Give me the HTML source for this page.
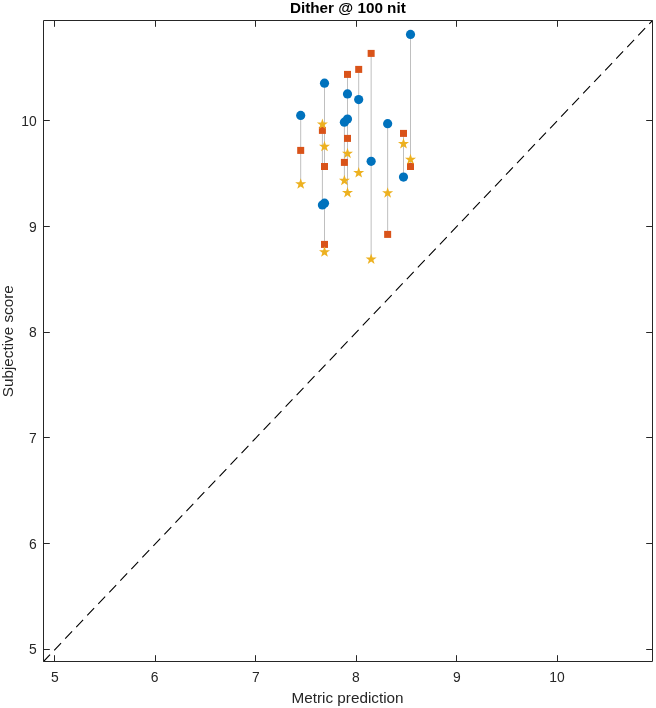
<!DOCTYPE html>
<html><head><meta charset="utf-8"><title>Dither @ 100 nit</title>
<style>
html,body{margin:0;padding:0;background:#fff;}
body{width:656px;height:708px;overflow:hidden;}
svg{display:block;}
text{font-family:"Liberation Sans",Arial,Helvetica,sans-serif;}
.tk{font-size:13.89px;fill:#262626;}
.lb{font-size:15.28px;fill:#262626;}
.tt{font-size:15.28px;font-weight:bold;fill:#000;}
</style></head><body>
<svg width="656" height="708" viewBox="0 0 656 708">
<rect x="0" y="0" width="656" height="708" fill="#ffffff"/>

<g stroke="#bfbfbf" stroke-width="1" fill="none">
<line x1="300.7" y1="115.40" x2="300.7" y2="184.10"/>
<line x1="322.4" y1="124.40" x2="322.4" y2="205.00"/>
<line x1="324.5" y1="83.20" x2="324.5" y2="166.50"/>
<line x1="324.5" y1="203.20" x2="324.5" y2="252.15"/>
<line x1="344.4" y1="122.20" x2="344.4" y2="180.60"/>
<line x1="347.5" y1="74.40" x2="347.5" y2="153.55"/>
<line x1="347.5" y1="119.10" x2="347.5" y2="192.75"/>
<line x1="358.7" y1="69.40" x2="358.7" y2="172.90"/>
<line x1="371.15" y1="53.40" x2="371.15" y2="259.25"/>
<line x1="387.65" y1="123.70" x2="387.65" y2="234.40"/>
<line x1="403.5" y1="133.40" x2="403.5" y2="177.10"/>
<line x1="410.5" y1="34.40" x2="410.5" y2="166.50"/>
</g>
<line x1="43.5" y1="661.5" x2="652.5" y2="20.5" stroke="#000" stroke-width="1.1" stroke-dasharray="10 6" stroke-dashoffset="0.5"/>
<g fill="#0072bd">
<circle cx="300.7" cy="115.4" r="4.6"/>
<circle cx="322.4" cy="205.0" r="4.6"/>
<circle cx="324.5" cy="83.2" r="4.6"/>
<circle cx="324.5" cy="203.2" r="4.6"/>
<circle cx="344.4" cy="122.2" r="4.6"/>
<circle cx="347.5" cy="93.9" r="4.6"/>
<circle cx="347.5" cy="119.1" r="4.6"/>
<circle cx="358.7" cy="99.6" r="4.6"/>
<circle cx="371.15" cy="161.3" r="4.6"/>
<circle cx="387.65" cy="123.7" r="4.6"/>
<circle cx="403.5" cy="177.1" r="4.6"/>
<circle cx="410.5" cy="34.4" r="4.6"/>
</g>
<g fill="#d95319">
<rect x="297.20" y="146.90" width="7" height="7"/>
<rect x="318.90" y="126.90" width="7" height="7"/>
<rect x="321.00" y="163.00" width="7" height="7"/>
<rect x="321.00" y="240.90" width="7" height="7"/>
<rect x="340.90" y="158.90" width="7" height="7"/>
<rect x="344.00" y="70.90" width="7" height="7"/>
<rect x="344.00" y="134.90" width="7" height="7"/>
<rect x="355.20" y="65.90" width="7" height="7"/>
<rect x="367.65" y="49.90" width="7" height="7"/>
<rect x="384.15" y="230.90" width="7" height="7"/>
<rect x="400.00" y="129.90" width="7" height="7"/>
<rect x="407.00" y="163.00" width="7" height="7"/>
</g>
<g fill="#edb120">
<polygon points="300.70,178.30 302.05,182.24 306.22,182.31 302.89,184.81 304.11,188.79 300.70,186.40 297.29,188.79 298.51,184.81 295.18,182.31 299.35,182.24"/>
<polygon points="322.40,118.60 323.75,122.54 327.92,122.61 324.59,125.11 325.81,129.09 322.40,126.70 318.99,129.09 320.21,125.11 316.88,122.61 321.05,122.54"/>
<polygon points="324.50,140.85 325.85,144.79 330.02,144.86 326.69,147.36 327.91,151.34 324.50,148.95 321.09,151.34 322.31,147.36 318.98,144.86 323.15,144.79"/>
<polygon points="324.50,246.35 325.85,250.29 330.02,250.36 326.69,252.86 327.91,256.84 324.50,254.45 321.09,256.84 322.31,252.86 318.98,250.36 323.15,250.29"/>
<polygon points="344.40,174.80 345.75,178.74 349.92,178.81 346.59,181.31 347.81,185.29 344.40,182.90 340.99,185.29 342.21,181.31 338.88,178.81 343.05,178.74"/>
<polygon points="347.50,147.75 348.85,151.69 353.02,151.76 349.69,154.26 350.91,158.24 347.50,155.85 344.09,158.24 345.31,154.26 341.98,151.76 346.15,151.69"/>
<polygon points="347.50,186.95 348.85,190.89 353.02,190.96 349.69,193.46 350.91,197.44 347.50,195.05 344.09,197.44 345.31,193.46 341.98,190.96 346.15,190.89"/>
<polygon points="358.70,167.10 360.05,171.04 364.22,171.11 360.89,173.61 362.11,177.59 358.70,175.20 355.29,177.59 356.51,173.61 353.18,171.11 357.35,171.04"/>
<polygon points="371.15,253.45 372.50,257.39 376.67,257.46 373.34,259.96 374.56,263.94 371.15,261.55 367.74,263.94 368.96,259.96 365.63,257.46 369.80,257.39"/>
<polygon points="387.65,187.25 389.00,191.19 393.17,191.26 389.84,193.76 391.06,197.74 387.65,195.35 384.24,197.74 385.46,193.76 382.13,191.26 386.30,191.19"/>
<polygon points="403.50,138.10 404.85,142.04 409.02,142.11 405.69,144.61 406.91,148.59 403.50,146.20 400.09,148.59 401.31,144.61 397.98,142.11 402.15,142.04"/>
<polygon points="410.50,153.75 411.85,157.69 416.02,157.76 412.69,160.26 413.91,164.24 410.50,161.85 407.09,164.24 408.31,160.26 404.98,157.76 409.15,157.69"/>
</g>
<g stroke="#262626" stroke-width="1" fill="none">
<rect x="43.5" y="20.5" width="609.0" height="641.0" stroke-linejoin="round"/>
<line x1="54.5" y1="661.5" x2="54.5" y2="655.2"/>
<line x1="54.5" y1="20.5" x2="54.5" y2="26.8"/>
<line x1="43.5" y1="649.5" x2="49.8" y2="649.5"/>
<line x1="652.5" y1="649.5" x2="646.2" y2="649.5"/>
<line x1="155.5" y1="661.5" x2="155.5" y2="655.2"/>
<line x1="155.5" y1="20.5" x2="155.5" y2="26.8"/>
<line x1="43.5" y1="543.5" x2="49.8" y2="543.5"/>
<line x1="652.5" y1="543.5" x2="646.2" y2="543.5"/>
<line x1="255.5" y1="661.5" x2="255.5" y2="655.2"/>
<line x1="255.5" y1="20.5" x2="255.5" y2="26.8"/>
<line x1="43.5" y1="437.5" x2="49.8" y2="437.5"/>
<line x1="652.5" y1="437.5" x2="646.2" y2="437.5"/>
<line x1="356.5" y1="661.5" x2="356.5" y2="655.2"/>
<line x1="356.5" y1="20.5" x2="356.5" y2="26.8"/>
<line x1="43.5" y1="332.5" x2="49.8" y2="332.5"/>
<line x1="652.5" y1="332.5" x2="646.2" y2="332.5"/>
<line x1="456.5" y1="661.5" x2="456.5" y2="655.2"/>
<line x1="456.5" y1="20.5" x2="456.5" y2="26.8"/>
<line x1="43.5" y1="226.5" x2="49.8" y2="226.5"/>
<line x1="652.5" y1="226.5" x2="646.2" y2="226.5"/>
<line x1="557.5" y1="661.5" x2="557.5" y2="655.2"/>
<line x1="557.5" y1="20.5" x2="557.5" y2="26.8"/>
<line x1="43.5" y1="120.5" x2="49.8" y2="120.5"/>
<line x1="652.5" y1="120.5" x2="646.2" y2="120.5"/>
</g>
<text class="tk" transform="translate(54.76,682.00)" text-anchor="middle">5</text>
<text class="tk" transform="translate(36.60,654.10)" text-anchor="end">5</text>
<text class="tk" transform="translate(154.65,682.00)" text-anchor="middle">6</text>
<text class="tk" transform="translate(36.60,549.10)" text-anchor="end">6</text>
<text class="tk" transform="translate(255.80,682.00)" text-anchor="middle">7</text>
<text class="tk" transform="translate(36.60,443.00)" text-anchor="end">7</text>
<text class="tk" transform="translate(355.80,682.00)" text-anchor="middle">8</text>
<text class="tk" transform="translate(36.60,337.10)" text-anchor="end">8</text>
<text class="tk" transform="translate(456.90,682.00)" text-anchor="middle">9</text>
<text class="tk" transform="translate(36.60,232.10)" text-anchor="end">9</text>
<text class="tk" transform="translate(557.05,682.00)" text-anchor="middle">10</text>
<text class="tk" transform="translate(36.60,126.10)" text-anchor="end">10</text>
<text class="lb" transform="translate(347.55,702.7)" text-anchor="middle">Metric prediction</text>
<text class="lb" transform="translate(13.1,341.2) rotate(-90)" text-anchor="middle">Subjective score</text>
<text class="tt" transform="translate(347.85,12.9)" text-anchor="middle">Dither @ 100 nit</text>
</svg></body></html>
